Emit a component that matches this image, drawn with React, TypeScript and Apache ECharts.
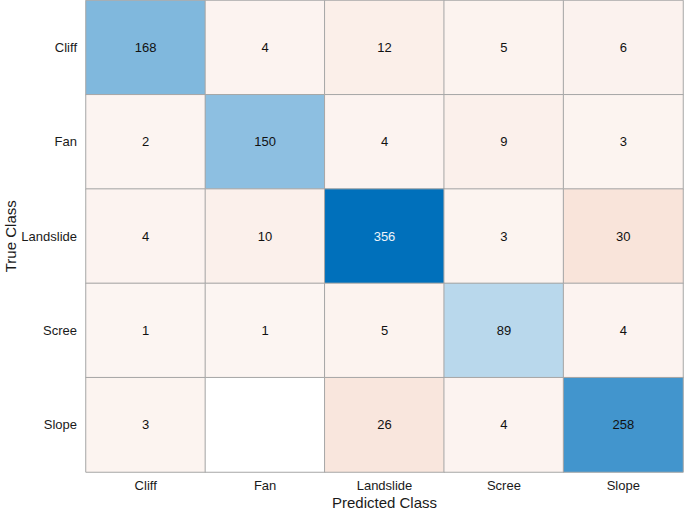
import React, { useEffect, useRef } from "react";
import * as echarts from "echarts";

const classes = ["Cliff", "Fan", "Landslide", "Scree", "Slope"];
const cliffRow = [168, 4, 12, 5, 6];
const fanRow = [2, 150, 4, 9, 3];
const landslideRow = [4, 10, 356, 3, 30];
const screeRow = [1, 1, 5, 89, 4];
const slopeRow = [3, 0, 26, 4, 258];
const matrix = [cliffRow, fanRow, landslideRow, screeRow, slopeRow];

function lerp(a: number[], b: number[], t: number) {
  const c = a.map((v, i) => Math.round(v + (b[i] - v) * t));
  return `rgb(${c[0]},${c[1]},${c[2]})`;
}

export default function App() {
  const ref = useRef<HTMLDivElement>(null);
  useEffect(() => {
    if (!ref.current) return;
    const chart = echarts.init(ref.current, null, { renderer: "svg" });
    let maxDiag = 0;
    let maxOff = 0;
    matrix.forEach((row, r) =>
      row.forEach((v, c) => {
        if (r === c) maxDiag = Math.max(maxDiag, v);
        else maxOff = Math.max(maxOff, v);
      })
    );
    const data: any[] = [];
    matrix.forEach((row, r) =>
      row.forEach((v, c) => {
        let color = "#ffffff";
        let textColor = "#111111";
        if (v > 0) {
          if (r === c) {
            const t = v / maxDiag;
            color = lerp([255, 255, 255], [0, 112, 187], Math.pow(t, 0.93));
            if (t > 0.85) textColor = "#eef4fa";
          } else {
            const t = (v - 1) / (maxOff - 1);
            color = lerp([252, 245, 242], [249, 228, 218], t);
          }
        }
        data.push({
          value: [c, r, v],
          itemStyle: { color },
          label: { color: textColor, show: v > 0 },
        });
      })
    );
    chart.setOption({
      animation: false,
      textStyle: { fontFamily: "Liberation Sans, Arial, sans-serif" },
      grid: { left: 86, right: 2, top: 0.5, bottom: 40, outerBoundsMode: "none", containLabel: false },
      visualMap: {
        show: false,
        type: "continuous",
        dimension: 2,
        min: 0,
        max: 356,
        seriesIndex: 0,
        inRange: { opacity: 1 },
        outOfRange: { opacity: 1 },
      },
      xAxis: {
        type: "category",
        data: classes,
        name: "Predicted Class",
        nameLocation: "middle",
        nameGap: 23,
        nameMoveOverlap: false,
        nameTextStyle: { fontSize: 15, color: "#1a1a1a" },
        axisLine: { show: false },
        axisTick: { show: false },
        splitLine: { show: false },
        axisLabel: { fontSize: 13, color: "#1a1a1a", margin: 7 },
      },
      yAxis: {
        type: "category",
        data: classes,
        inverse: true,
        name: "True Class",
        nameLocation: "middle",
        nameGap: 68,
        nameMoveOverlap: false,
        nameTextStyle: { fontSize: 15, color: "#1a1a1a" },
        axisLine: { show: false },
        axisTick: { show: false },
        splitLine: { show: false },
        axisLabel: { fontSize: 13, color: "#1a1a1a", margin: 9 },
      },
      series: [
        {
          type: "heatmap",
          data,
          label: {
            show: true,
            fontSize: 13,
            formatter: (p: any) => (p.value[2] > 0 ? String(p.value[2]) : ""),
          },
          itemStyle: { borderColor: "#a6a6a6", borderWidth: 1 },
          emphasis: { disabled: true },
        },
      ],
    });
    return () => chart.dispose();
  }, []);
  return (
    <div
      ref={ref}
      style={{ position: "fixed", left: 0, top: 0, width: 685, height: 512, background: "#fff" }}
    />
  );
}
